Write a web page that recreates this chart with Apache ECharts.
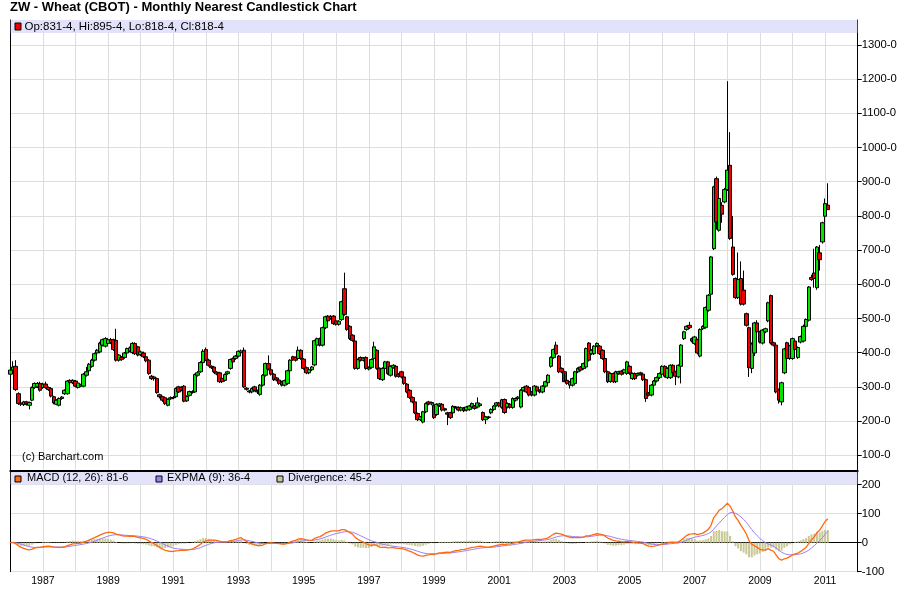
<!DOCTYPE html>
<html>
<head>
<meta charset="utf-8">
<title>ZW - Wheat (CBOT) - Monthly Nearest Candlestick Chart</title>
<script src="https://cdn.jsdelivr.net/npm/echarts@6.0.0/dist/echarts.min.js"></script>
<style>
  html, body { margin: 0; padding: 0; background: #fff; }
  #chart { width: 900px; height: 612px; }
</style>
</head>
<body>
<div id="chart"></div>
<script>
// 月度K线数据（1986-01 ~ 2011-02），每行一年，单位：美分/蒲式耳
const opens = [
  337, 349, 360, 280, 253, 248, 256, 246, 261, 298, 300, 310,
  298, 308, 298, 295, 271, 249, 246, 266, 280, 280, 319, 312,
  317, 298, 302, 302, 334, 347, 360, 378, 399, 402, 422, 419,
  427, 438, 438, 436, 378, 386, 386, 399, 405, 400, 427, 417,
  394, 399, 388, 378, 331, 329, 324, 277, 271, 268, 246, 265,
  268, 271, 300, 298, 302, 259, 275, 285, 285, 334, 344, 371,
  409, 378, 360, 358, 343, 341, 325, 319, 339, 354, 383, 383,
  390, 400, 407, 296, 288, 285, 300, 289, 278, 305, 334, 368,
  350, 337, 326, 320, 315, 305, 310, 347, 388, 386, 383, 407,
  381, 356, 341, 350, 364, 422, 441, 422, 473, 507, 500, 507,
  493, 483, 497, 587, 505, 477, 451, 434, 354, 386, 378, 386,
  352, 357, 383, 407, 354, 321, 354, 373, 334, 357, 360, 337,
  344, 329, 308, 290, 269, 256, 222, 204, 197, 227, 256, 250,
  246, 219, 245, 249, 236, 224, 224, 224, 240, 240, 232, 238,
  232, 234, 241, 244, 241, 245, 225, 204, 210, 224, 234, 246,
  253, 240, 263, 241, 249, 240, 261, 266, 241, 290, 302, 298,
  285, 276, 300, 290, 285, 302, 312, 360, 386, 422, 390, 354,
  344, 319, 305, 305, 310, 344, 358, 354, 358, 428, 397, 397,
  420, 419, 407, 383, 344, 316, 339, 315, 339, 346, 341, 339,
  360, 324, 339, 334, 341, 337, 321, 282, 276, 305, 317, 327,
  337, 360, 327, 327, 363, 344, 329, 360, 441, 468, 480, 441,
  427, 438, 390, 470, 474, 524, 571, 704, 909, 758, 831, 841,
  877, 948, 709, 617, 561, 617, 583, 514, 473, 354, 399, 487,
  461, 428, 461, 493, 567, 429, 422, 292, 256, 341, 429, 383,
  383, 434, 386, 431, 434, 477, 495, 620, 633, 590, 692, 724,
  799, 831.5
];
const closes = [
  349, 358, 292, 251, 249, 256, 250, 254, 298, 310, 310, 290,
  308, 298, 292, 273, 253, 261, 266, 270, 290, 317, 312, 319,
  302, 311, 306, 337, 344, 366, 378, 397, 407, 428, 438, 441,
  438, 429, 409, 378, 393, 380, 399, 412, 414, 427, 397, 393,
  402, 388, 376, 339, 324, 324, 283, 271, 261, 251, 263, 268,
  269, 295, 285, 291, 258, 272, 286, 284, 336, 341, 371, 404,
  378, 363, 356, 344, 338, 315, 315, 336, 344, 380, 373, 390,
  404, 405, 300, 293, 285, 295, 290, 285, 305, 334, 368, 352,
  337, 321, 320, 310, 305, 318, 347, 378, 380, 378, 407, 383,
  354, 341, 350, 358, 435, 441, 422, 473, 505, 493, 505, 485,
  483, 492, 549, 512, 468, 441, 436, 354, 380, 378, 384, 354,
  356, 380, 417, 354, 324, 354, 373, 339, 360, 363, 331, 331,
  329, 310, 285, 269, 256, 224, 204, 212, 227, 251, 250, 254,
  210, 249, 250, 232, 232, 220, 210, 243, 241, 232, 239, 230,
  241, 244, 251, 237, 253, 250, 204, 212, 212, 234, 244, 253,
  244, 262, 225, 251, 240, 266, 266, 270, 290, 298, 285, 276,
  276, 302, 288, 285, 302, 315, 334, 386, 409, 396, 344, 344,
  315, 310, 314, 324, 344, 354, 349, 368, 412, 378, 407, 419,
  427, 397, 383, 344, 315, 339, 315, 344, 344, 337, 350, 373,
  341, 339, 324, 339, 337, 321, 266, 276, 305, 317, 327, 339,
  360, 331, 354, 363, 341, 331, 363, 422, 461, 477, 473, 434,
  446, 399, 468, 477, 532, 568, 680, 885, 782, 851, 805, 877,
  934, 734, 629, 561, 614, 542, 542, 480, 356, 425, 487, 461,
  431, 466, 470, 546, 428, 422, 285, 261, 312, 411, 383, 420,
  441, 409, 415, 447, 477, 497, 592, 614, 617, 709, 672, 780,
  836, 818.5
];
const lows = [
  333, 345, 288, 247, 244, 244, 245, 234, 258, 294, 296, 286,
  294, 294, 288, 269, 249, 246, 243, 262, 276, 277, 308, 308,
  298, 295, 299, 299, 330, 343, 356, 374, 395, 398, 418, 415,
  423, 425, 405, 374, 374, 376, 382, 395, 401, 396, 393, 389,
  390, 384, 372, 335, 320, 318, 280, 266, 256, 247, 243, 262,
  264, 268, 282, 287, 255, 256, 272, 280, 282, 330, 341, 368,
  375, 359, 352, 340, 334, 311, 311, 315, 335, 350, 369, 379,
  386, 396, 297, 289, 281, 281, 286, 279, 274, 301, 330, 348,
  333, 317, 316, 306, 301, 301, 306, 343, 376, 374, 379, 379,
  350, 337, 337, 346, 360, 418, 418, 418, 469, 489, 496, 481,
  479, 479, 493, 508, 464, 437, 432, 350, 350, 374, 374, 350,
  348, 353, 380, 350, 320, 317, 350, 335, 330, 353, 327, 327,
  325, 306, 281, 265, 252, 220, 200, 200, 193, 223, 246, 246,
  206, 215, 241, 228, 228, 188, 206, 220, 236, 228, 228, 226,
  228, 230, 237, 233, 237, 241, 200, 191, 206, 220, 230, 242,
  240, 236, 221, 237, 236, 236, 257, 262, 237, 286, 281, 272,
  272, 272, 284, 281, 281, 298, 308, 356, 382, 392, 340, 340,
  340, 306, 295, 301, 306, 340, 345, 350, 354, 374, 393, 393,
  416, 393, 379, 340, 311, 312, 311, 311, 335, 333, 337, 335,
  335, 320, 320, 330, 333, 317, 256, 272, 272, 301, 313, 323,
  333, 327, 323, 323, 337, 305, 325, 310, 437, 464, 469, 430,
  423, 395, 386, 466, 470, 520, 567, 700, 760, 754, 780, 837,
  873, 730, 625, 557, 557, 538, 538, 476, 329, 340, 390, 457,
  427, 424, 457, 489, 424, 418, 281, 251, 246, 337, 379, 379,
  379, 405, 382, 427, 430, 470, 491, 610, 590, 584, 640, 719,
  780, 818.5
];
const highs = [
  355, 375, 378, 284, 258, 259, 259, 257, 301, 313, 314, 315,
  312, 315, 301, 298, 274, 264, 269, 273, 293, 320, 322, 322,
  320, 314, 309, 340, 358, 370, 382, 400, 411, 432, 441, 445,
  442, 443, 441, 470, 396, 390, 402, 415, 418, 431, 430, 420,
  406, 403, 392, 381, 335, 332, 327, 280, 274, 270, 266, 272,
  273, 298, 303, 302, 305, 275, 289, 290, 339, 346, 375, 410,
  415, 382, 363, 361, 346, 344, 328, 339, 347, 383, 386, 393,
  407, 409, 415, 299, 291, 298, 303, 292, 308, 337, 371, 392,
  353, 340, 329, 323, 318, 321, 350, 381, 391, 389, 418, 410,
  384, 359, 353, 361, 438, 444, 444, 476, 508, 510, 510, 510,
  496, 495, 552, 634, 508, 480, 454, 437, 383, 389, 387, 389,
  360, 383, 432, 410, 357, 357, 376, 376, 363, 366, 363, 340,
  347, 332, 311, 293, 272, 259, 225, 215, 230, 254, 259, 257,
  249, 252, 253, 252, 239, 227, 227, 246, 244, 243, 242, 241,
  244, 247, 254, 247, 269, 253, 228, 215, 215, 237, 247, 256,
  256, 265, 266, 254, 252, 269, 269, 273, 293, 301, 305, 301,
  288, 305, 303, 293, 305, 318, 337, 389, 412, 432, 393, 357,
  347, 322, 317, 327, 347, 357, 361, 371, 415, 431, 410, 422,
  430, 422, 410, 386, 347, 342, 342, 347, 347, 349, 353, 376,
  363, 342, 342, 342, 344, 340, 324, 285, 308, 320, 330, 342,
  363, 363, 357, 366, 366, 347, 366, 425, 464, 480, 490, 444,
  449, 441, 471, 480, 535, 571, 683, 888, 915, 855, 840, 882,
  1194, 1045, 800, 620, 693, 667, 640, 517, 476, 430, 490, 495,
  464, 469, 473, 549, 570, 432, 425, 295, 315, 414, 432, 423,
  444, 437, 418, 450, 482, 500, 595, 628, 704, 712, 715, 783,
  851, 895.5
];

// 横轴：1986-01 ~ 2012-01 每月一个类目，最后几个月留空
const startYear = 1986;
const endYear = 2011;
const months = [];
for (let y = startYear; y <= endYear; y++) {
  for (let m = 1; m <= 12; m++) months.push(y + "-" + String(m).padStart(2, "0"));
}
months.push("2012-01");

// 最后一根K线的价格标记
const lastPrice = 818.5;
const lastPriceText = "818-4";

// MACD(12,26) 与 EXPMA(9) 由收盘价计算（指标定义本身）
function ema(values, n) {
  const k = 2 / (n + 1);
  const out = [];
  values.forEach((v, i) => {
    out.push(i === 0 ? v : v * k + out[i - 1] * (1 - k));
  });
  return out;
}
const ema12 = ema(closes, 12);
const ema26 = ema(closes, 26);
const macd = ema12.map((v, i) => +(v - ema26[i]).toFixed(2));
const expma = ema(macd, 9).map((v) => +v.toFixed(2));
const divergence = macd.map((v, i) => +(v - expma[i]).toFixed(2));

// ECharts 蜡烛图数据格式：[open, close, low, high]
const candles = opens.map((o, i) => [o, closes[i], lows[i], highs[i]]);

const FONT = '"Liberation Sans", Arial, Helvetica, sans-serif';
const gridColor = "#dedede";
const bandColor = "#e2e2fa";

const myChart = echarts.init(document.querySelector("#chart"));

function yearSplit(index) {
  return index % 12 === 0;
}

const option = {
  animation: false,
  backgroundColor: "#fff",
  textStyle: { fontFamily: FONT },
  grid: [
    // 价格区
    { left: 10.3, right: 42.3, top: 20, bottom: 141 },
    // MACD区
    { left: 10.3, right: 42.3, top: 472.3, bottom: 40.3 },
  ],
  xAxis: [
    {
      type: "category",
      gridIndex: 0,
      data: months,
      boundaryGap: false,
      axisLine: { lineStyle: { color: "#000", width: 2 } },
      axisTick: { show: false },
      axisLabel: { show: false },
      splitLine: { show: true, interval: yearSplit, lineStyle: { color: gridColor } },
    },
    {
      type: "category",
      gridIndex: 1,
      data: months,
      boundaryGap: false,
      axisLine: { lineStyle: { color: "#000", width: 1 } },
      axisTick: { show: false },
      axisLabel: {
        interval: (index) => index % 24 === 12,
        formatter: (v) => v.slice(0, 4),
        color: "#000",
        fontSize: 10.5,
        margin: 4,
      },
      splitLine: { show: true, interval: yearSplit, lineStyle: { color: gridColor } },
    },
  ],
  yAxis: [
    {
      type: "value",
      gridIndex: 0,
      position: "right",
      min: 53.8,
      max: 1373.1,
      minInterval: 100,
      maxInterval: 100,
      axisLine: { show: true, lineStyle: { color: "#000" } },
      axisTick: { show: true, length: 4, lineStyle: { color: "#000" } },
      axisLabel: {
        formatter: (v) => v + "-0",
        showMinLabel: false,
        showMaxLabel: false,
        color: "#000",
        fontSize: 11.3,
        margin: 4,
      },
      splitLine: { lineStyle: { color: gridColor } },
    },
    {
      // 左边框
      type: "value",
      gridIndex: 0,
      position: "left",
      min: 53.8,
      max: 1373.1,
      axisLine: { show: true, lineStyle: { color: "#000" } },
      axisTick: { show: false },
      axisLabel: { show: false },
      splitLine: { show: false },
    },
    {
      type: "value",
      gridIndex: 1,
      position: "right",
      min: -100,
      max: 242.2,
      minInterval: 100,
      maxInterval: 100,
      axisLine: { show: true, lineStyle: { color: "#000" } },
      axisTick: { show: true, length: 4, lineStyle: { color: "#000" } },
      axisLabel: {
        formatter: (v) => String(v),
        showMaxLabel: false,
        color: "#000",
        fontSize: 11.3,
        margin: 4,
      },
      splitLine: { lineStyle: { color: gridColor } },
    },
    {
      type: "value",
      gridIndex: 1,
      position: "left",
      min: -100,
      max: 242.2,
      axisLine: { show: true, lineStyle: { color: "#000" } },
      axisTick: { show: false },
      axisLabel: { show: false },
      splitLine: { show: false },
    },
  ],
  series: [
    {
      name: "ZW",
      type: "candlestick",
      xAxisIndex: 0,
      yAxisIndex: 0,
      data: candles,
      barWidth: 4,
      itemStyle: {
        color: "#00e400",
        color0: "#ee0000",
        borderColor: "#000",
        borderColor0: "#000",
        borderWidth: 1,
      },
      // 最新价标签
      markLine: {
        silent: true,
        symbol: ["none", "none"],
        lineStyle: { opacity: 0 },
        label: {
          position: "end",
          formatter: lastPriceText,
          color: "#fff",
          backgroundColor: "#000",
          padding: [2, 2, 1, 2],
          fontSize: 11,
          distance: 3,
        },
        data: [{ yAxis: lastPrice }],
      },
    },
    {
      name: "Divergence",
      type: "bar",
      xAxisIndex: 1,
      yAxisIndex: 2,
      data: divergence,
      barWidth: 2,
      itemStyle: { color: "#c8c896" },
    },
    {
      name: "EXPMA",
      type: "line",
      xAxisIndex: 1,
      yAxisIndex: 2,
      data: expma,
      symbol: "none",
      lineStyle: { color: "#9d80f4", width: 1 },
    },
    {
      name: "MACD",
      type: "line",
      xAxisIndex: 1,
      yAxisIndex: 2,
      data: macd,
      symbol: "none",
      lineStyle: { color: "#ff6a10", width: 1.3 },
    },
  ],
  // 标题、图例条与版权文字
  graphic: [
    {
      type: "text",
      left: 10,
      top: 1,
      z: 100,
      style: {
        text: "ZW - Wheat (CBOT) - Monthly Nearest Candlestick Chart",
        font: "bold 13px " + FONT,
        fill: "#000",
      },
    },
    {
      type: "rect",
      z: 100,
      shape: { x: 10.8, y: 20, width: 846.5, height: 13 },
      style: { fill: bandColor },
    },
    {
      type: "rect",
      z: 101,
      shape: { x: 15, y: 23, width: 6, height: 7 },
      style: { fill: "#ee0000", stroke: "#000", lineWidth: 1 },
    },
    {
      type: "text",
      z: 101,
      left: 24.5,
      top: 20.5,
      style: { text: "Op:831-4, Hi:895-4, Lo:818-4, Cl:818-4", font: "11.5px " + FONT, fill: "#000" },
    },
    {
      type: "text",
      z: 101,
      left: 22,
      top: 451,
      style: { text: "(c) Barchart.com", font: "11px " + FONT, fill: "#000" },
    },
    {
      type: "rect",
      z: 100,
      shape: { x: 10.8, y: 472.3, width: 846.5, height: 12 },
      style: { fill: bandColor },
    },
    {
      type: "rect",
      z: 101,
      shape: { x: 15, y: 476, width: 6, height: 6 },
      style: { fill: "#ff6a10", stroke: "#000", lineWidth: 1 },
    },
    {
      type: "text",
      z: 101,
      left: 27,
      top: 472.5,
      style: { text: "MACD (12, 26): 81-6", font: "11px " + FONT, fill: "#000" },
    },
    {
      type: "rect",
      z: 101,
      shape: { x: 156, y: 476, width: 6, height: 6 },
      style: { fill: "#9d80f4", stroke: "#000", lineWidth: 1 },
    },
    {
      type: "text",
      z: 101,
      left: 167,
      top: 472.5,
      style: { text: "EXPMA (9): 36-4", font: "11px " + FONT, fill: "#000" },
    },
    {
      type: "rect",
      z: 101,
      shape: { x: 277, y: 476, width: 6, height: 6 },
      style: { fill: "#c8c896", stroke: "#000", lineWidth: 1 },
    },
    {
      type: "text",
      z: 101,
      left: 288,
      top: 472.5,
      style: { text: "Divergence: 45-2", font: "11px " + FONT, fill: "#000" },
    },
  ],
};

myChart.setOption(option);
</script>
</body>
</html>
